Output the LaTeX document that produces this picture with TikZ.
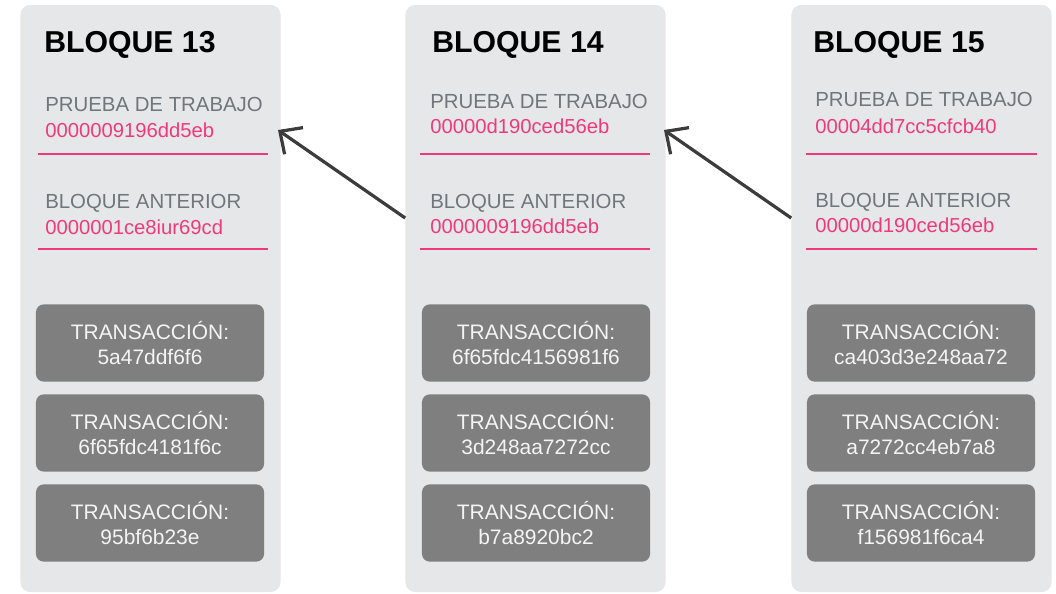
\documentclass[tikz,border=0pt]{standalone}
\usepackage{fontspec}
\setmainfont{Liberation Sans}
\usetikzlibrary{arrows.meta}
\definecolor{panelgray}{HTML}{E6E7E8}
\definecolor{labelgray}{HTML}{70767D}
\definecolor{hashpink}{HTML}{EE3A7C}
\definecolor{txgray}{HTML}{7F7F7F}
\definecolor{txtext}{HTML}{F4F4F4}
\definecolor{linkgray}{HTML}{3C3C3C}
\begin{document}
\begin{tikzpicture}[x=0.025cm,y=-0.025cm,
    panel/.style={rectangle,fill=panelgray,rounded corners=7pt,minimum width=6.5cm,minimum height=14.675cm,inner sep=0},
    title/.style={anchor=base west,inner sep=0,font=\fontsize{21.5}{25}\selectfont\bfseries},
    field/.style={anchor=base west,inner sep=0,text=labelgray,font=\fontsize{14.5}{17}\selectfont},
    hash/.style={anchor=base west,inner sep=0,text=hashpink,font=\fontsize{14.4}{17}\selectfont},
    rule/.style={draw=hashpink,line width=0.8pt},
    tx/.style={rectangle,rounded corners=5.5pt,fill=txgray,text=txtext,align=center,minimum width=5.7cm,minimum height=1.93cm,inner sep=0,font=\fontsize{14.9}{18}\selectfont},
    link/.style={draw=linkgray,line width=2.3pt,-{Straight Barb[length=12pt,width=23pt]}}]
    \useasboundingbox (0,0) rectangle (1056,593);

    % bloque 13
    \node[panel] at (150.5,298.5) (b13) {};
    \node[title] at (44,52) (t13) {BLOQUE 13};
    \node[field] at (45,111) (pw13) {PRUEBA DE TRABAJO};
    \node[hash] at (45,137) (ph13) {0000009196dd5eb};
    \draw[rule] (38,154) -- (268,154);
    \node[field] at (45,208) (aw13) {BLOQUE ANTERIOR};
    \node[hash] at (45,234) (ah13) {0000001ce8iur69cd};
    \draw[rule] (38,249) -- (268,249);
    \node[tx] at (150,343) (x13a) {TRANSACCIÓN:\\5a47ddf6f6};
    \node[tx] at (150,433) (x13b) {TRANSACCIÓN:\\6f65fdc4181f6c};
    \node[tx] at (150,523) (x13c) {TRANSACCIÓN:\\95bf6b23e};

    % bloque 14
    \node[panel] at (535.5,298.5) (b14) {};
    \node[title] at (432,52) (t14) {BLOQUE 14};
    \node[field] at (430,108) (pw14) {PRUEBA DE TRABAJO};
    \node[hash] at (430,133) (ph14) {00000d190ced56eb};
    \draw[rule] (420,154) -- (650,154);
    \node[field] at (430,208) (aw14) {BLOQUE ANTERIOR};
    \node[hash] at (430,233) (ah14) {0000009196dd5eb};
    \draw[rule] (420,249) -- (650,249);
    \node[tx] at (536,343) (x14a) {TRANSACCIÓN:\\6f65fdc4156981f6};
    \node[tx] at (536,433) (x14b) {TRANSACCIÓN:\\3d248aa7272cc};
    \node[tx] at (536,523) (x14c) {TRANSACCIÓN:\\b7a8920bc2};

    % bloque 15
    \node[panel] at (921.5,298.5) (b15) {};
    \node[title] at (813,52) (t15) {BLOQUE 15};
    \node[field] at (815,106) (pw15) {PRUEBA DE TRABAJO};
    \node[hash] at (815,133) (ph15) {00004dd7cc5cfcb40};
    \draw[rule] (806,154) -- (1037,154);
    \node[field] at (815,207) (aw15) {BLOQUE ANTERIOR};
    \node[hash] at (815,232) (ah15) {00000d190ced56eb};
    \draw[rule] (806,249) -- (1037,249);
    \node[tx] at (921,343) (x15a) {TRANSACCIÓN:\\ca403d3e248aa72};
    \node[tx] at (921,433) (x15b) {TRANSACCIÓN:\\a7272cc4eb7a8};
    \node[tx] at (921,523) (x15c) {TRANSACCIÓN:\\f156981f6ca4};

    % enlaces
    \coordinate (from14) at (b14.west |- 0,218);
    \coordinate (to13) at (278,130);
    \coordinate (from15) at (b15.west |- 0,218);
    \coordinate (to14) at (664,130);
    \draw[link] (from14) -- (to13);
    \draw[link] (from15) -- (to14);
\end{tikzpicture}
\end{document}
